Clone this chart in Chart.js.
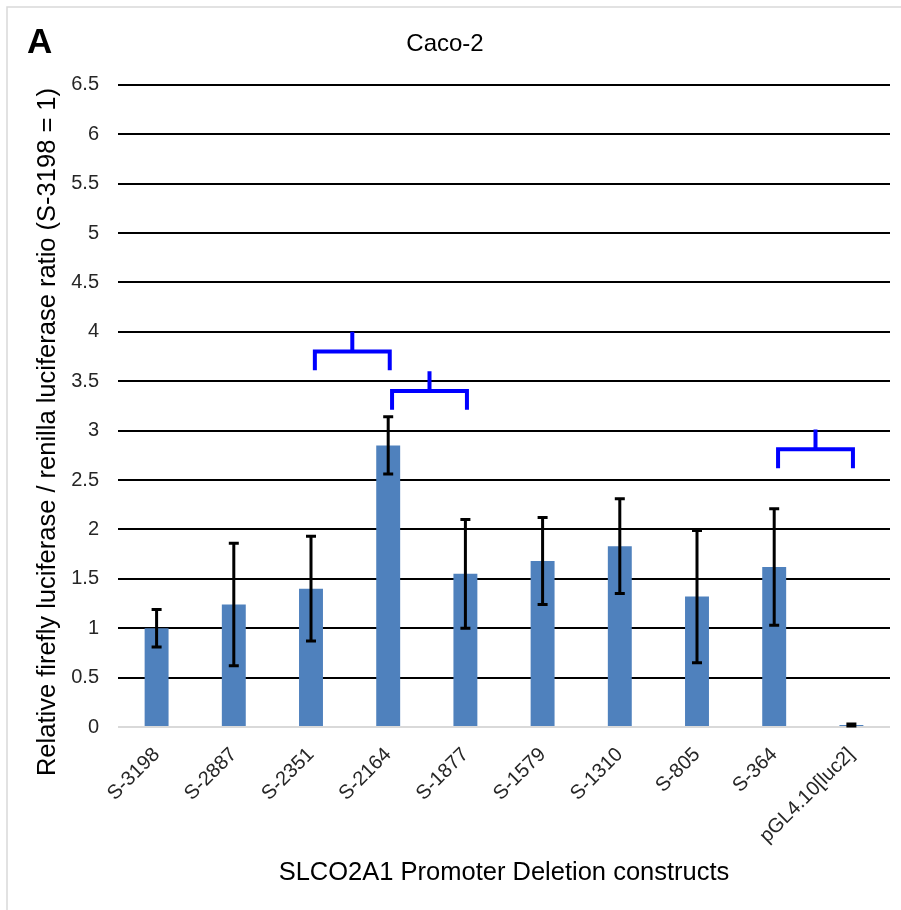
<!DOCTYPE html>
<html>
<head>
<meta charset="utf-8">
<script src="https://cdn.jsdelivr.net/npm/chart.js@4"></script>
<style>
  body { margin: 0; background: #fff; }
  #wrap { position: relative; width: 901px; height: 910px; }
</style>
</head>
<body>
<div id="wrap"><canvas id="promoterChart" width="901" height="910"></canvas></div>
<script>
const constructs = ['S-3198', 'S-2887', 'S-2351', 'S-2164', 'S-1877', 'S-1579', 'S-1310', 'S-805', 'S-364', 'pGL4.10[luc2]'];
const ratio = [1.00, 1.24, 1.40, 2.85, 1.55, 1.68, 1.83, 1.32, 1.62, 0.02];
const ratioSd = [0.19, 0.62, 0.53, 0.29, 0.55, 0.44, 0.48, 0.67, 0.59, 0.01];

// significance brackets: from / to category index, height of the bar of the bracket
const bracketFrom = [2, 3, 8];
const bracketTo = [3, 4, 9];
const bracketLevel = [3.8, 3.4, 2.81];

const yTitle = 'Relative firefly luciferase / renilla luciferase ratio (S-3198 = 1)';
const font = 'Liberation Sans, Arial, sans-serif';

const errorBars = {
    id: 'errorBars',
    afterDatasetsDraw(chart) {
        const ctx = chart.ctx;
        const y = chart.scales.y;
        const meta = chart.getDatasetMeta(0);
        ctx.save();
        ctx.strokeStyle = '#000';
        ctx.lineWidth = 3;
        meta.data.forEach((bar, i) => {
            const top = y.getPixelForValue(ratio[i] + ratioSd[i]);
            const bottom = y.getPixelForValue(ratio[i] - ratioSd[i]);
            ctx.beginPath();
            ctx.moveTo(bar.x, top);
            ctx.lineTo(bar.x, bottom);
            ctx.moveTo(bar.x - 5, top);
            ctx.lineTo(bar.x + 5, top);
            ctx.moveTo(bar.x - 5, bottom);
            ctx.lineTo(bar.x + 5, bottom);
            ctx.stroke();
        });
        ctx.restore();
    }
};

const brackets = {
    id: 'brackets',
    afterDatasetsDraw(chart) {
        const ctx = chart.ctx;
        const x = chart.scales.x;
        const y = chart.scales.y;
        ctx.save();
        ctx.strokeStyle = '#0000FF';
        ctx.lineWidth = 4;
        bracketFrom.forEach((from, i) => {
            const x1 = x.getPixelForValue(from + 0.05);
            const x2 = x.getPixelForValue(bracketTo[i] + 0.02);
            const mid = (x1 + x2) / 2;
            const yb = y.getPixelForValue(bracketLevel[i]);
            const yLeg = y.getPixelForValue(bracketLevel[i] - 0.19);
            const yStem = y.getPixelForValue(bracketLevel[i] + 0.2);
            ctx.beginPath();
            ctx.moveTo(x1, yLeg);
            ctx.lineTo(x1, yb);
            ctx.lineTo(x2, yb);
            ctx.lineTo(x2, yLeg);
            ctx.moveTo(mid, yb);
            ctx.lineTo(mid, yStem);
            ctx.stroke();
        });
        ctx.restore();
    }
};

// panel letter, vertical axis title and the faint frame
const decorations = {
    id: 'decorations',
    afterDraw(chart) {
        const ctx = chart.ctx;
        ctx.save();
        ctx.fillStyle = '#000';
        ctx.font = 'bold 35px ' + font;
        ctx.textBaseline = 'alphabetic';
        ctx.fillText('A', 27, 53);

        ctx.save();
        ctx.translate(48, 432);
        ctx.rotate(-Math.PI / 2);
        ctx.font = '25.5px ' + font;
        ctx.textAlign = 'center';
        ctx.textBaseline = 'middle';
        ctx.fillText(yTitle, 0, 0);
        ctx.restore();

        ctx.strokeStyle = '#D9D9D9';
        ctx.lineWidth = 1.5;
        ctx.beginPath();
        ctx.moveTo(7, 910);
        ctx.lineTo(7, 7);
        ctx.lineTo(901, 7);
        ctx.stroke();
        ctx.restore();
    }
};

new Chart(document.getElementById('promoterChart'), {
    type: 'bar',
    data: {
        labels: constructs,
        datasets: [{
            data: ratio,
            backgroundColor: '#4F81BD',
            borderWidth: 0,
            barPercentage: 0.31,
            categoryPercentage: 1
        }]
    },
    options: {
        responsive: false,
        animation: false,
        layout: {
            padding: { left: 0, right: 11, top: 0, bottom: 0 }
        },
        plugins: {
            legend: { display: false },
            tooltip: { enabled: false },
            title: {
                display: true,
                text: 'Caco-2',
                color: '#000',
                font: { family: font, size: 24, weight: 'normal' },
                padding: { top: 30, bottom: 26 }
            }
        },
        scales: {
            y: {
                min: 0,
                max: 6.5,
                afterFit: scale => { scale.width = 118; },
                ticks: {
                    stepSize: 0.5,
                    color: '#262626',
                    padding: 19,
                    font: { family: font, size: 20 },
                    callback: value => String(value)
                },
                grid: {
                    color: ctx => ctx.tick.value === 0 ? '#D9D9D9' : '#000',
                    lineWidth: 2,
                    drawTicks: false
                },
                border: { display: false }
            },
            x: {
                afterFit: scale => { scale.height = 183; },
                ticks: {
                    color: '#262626',
                    minRotation: 45,
                    maxRotation: 45,
                    padding: 8,
                    font: { family: font, size: 20 }
                },
                grid: { display: false },
                border: { display: false },
                title: {
                    display: true,
                    text: 'SLCO2A1 Promoter Deletion constructs',
                    color: '#000',
                    font: { family: font, size: 25.5 },
                    padding: { top: 0, bottom: 22 }
                }
            }
        }
    },
    plugins: [errorBars, brackets, decorations]
});
</script>
</body>
</html>
